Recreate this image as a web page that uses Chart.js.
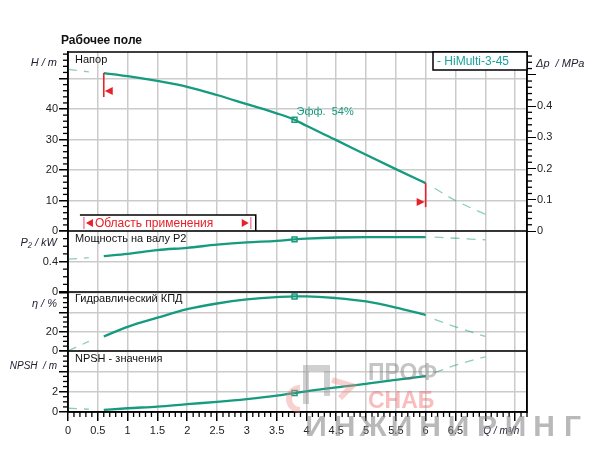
<!DOCTYPE html>
<html>
<head>
<meta charset="utf-8">
<script src="https://cdn.jsdelivr.net/npm/chart.js@4.4.0/dist/chart.umd.min.js"></script>
<style>
  html, body { margin: 0; padding: 0; background: #fff; }
</style>
</head>
<body>
<canvas id="pumpChart" width="600" height="457"></canvas>
<script>
// flow values (m³/h) for the three pieces of every curve
const qLow = [0, 0.35];
const qMain = [0.6, 1, 1.5, 2, 2.5, 3, 3.5, 3.8, 4, 4.5, 5, 5.5, 6];
const qHigh = [6.15, 6.5, 7.0];

// head H, m
const headLow = [53.0, 52.2];
const headMain = [51.8, 50.8, 49.2, 47.3, 44.6, 41.6, 38.6, 36.5, 34.5, 29.8, 25.0, 20.3, 15.7];
const headHigh = [14.0, 10.0, 5.5];

// shaft power P2, kW
const powerLow = [0.43, 0.45];
const powerMain = [0.47, 0.50, 0.55, 0.58, 0.62, 0.65, 0.67, 0.69, 0.70, 0.715, 0.72, 0.72, 0.72];
const powerHigh = [0.72, 0.705, 0.685];

// hydraulic efficiency, %
const effLow = [0, 10];
const effMain = [15, 25, 34.4, 43.2, 49.1, 53.3, 55.8, 56.4, 56.5, 54.7, 51.2, 44.9, 37.2];
const effHigh = [32.6, 25, 15];

// NPSH, m
const npshLow = [0.37, 0.27];
const npshMain = [0.2, 0.37, 0.53, 0.77, 1.0, 1.27, 1.6, 1.87, 2.03, 2.43, 2.77, 3.17, 3.53];
const npshHigh = [3.87, 4.6, 5.43];

const dutyQ = 3.8;
const appRange = [0.6, 6.0];
const hLabels = [0, 10, 20, 30, 40];
const dpLabels = [0, 0.1, 0.2, 0.3, 0.4];
const pLabels = [0, 0.4];
const effLabels = [0, 20];
const npshLabels = [0, 2];

const TEAL = '#169b7e';
const TEAL_LIGHT = 'rgba(22,155,126,0.5)';
const GRID = '#cbcbcb';

Chart.defaults.font.family = "'Liberation Sans', Arial, sans-serif";
Chart.defaults.font.size = 11;

function isMul(v, step) {
    const r = v / step;
    return Math.abs(r - Math.round(r)) < 1e-6;
}

function pts(xs, ys) {
    return xs.map((x, i) => ({ x: x, y: ys[i] }));
}

function curve(xs, ys, axis, dashed) {
    return {
        data: pts(xs, ys),
        yAxisID: axis,
        borderColor: dashed ? TEAL_LIGHT : TEAL,
        borderWidth: dashed ? 1.3 : 2.3,
        borderDash: dashed ? [9, 7] : [],
        pointRadius: 0,
        cubicInterpolationMode: 'monotone',
        fill: false
    };
}

function duty(ys, axis) {
    const i = qMain.indexOf(dutyQ);
    return {
        data: [{ x: dutyQ, y: ys[i] }],
        yAxisID: axis,
        showLine: false,
        pointStyle: 'rect',
        pointRadius: 3.5,
        pointBackgroundColor: '#fff',
        pointBorderColor: TEAL,
        pointBorderWidth: 1.5
    };
}

function leftAxis(min, max, step, major, labels, weight) {
    return {
        type: 'linear', position: 'left', stack: 'left', stackWeight: weight,
        min: min, max: max,
        afterFit: s => { s.width = 68; },
        border: { color: '#000', width: 1.5 },
        grid: {
            color: c => isMul(c.tick.value, major) ? GRID : 'transparent',
            lineWidth: 1.5,
            tickLength: 9,
            tickColor: c => isMul(c.tick.value, major) ? '#000' : 'transparent'
        },
        ticks: {
            stepSize: step, includeBounds: false, autoSkip: false, padding: 1,
            color: '#222',
            callback: v => labels.some(l => Math.abs(l - v) < 1e-6) ? String(v) : ''
        }
    };
}

const datasets = [
    curve(qLow, headLow, 'yH', true), curve(qMain, headMain, 'yH', false), curve(qHigh, headHigh, 'yH', true), duty(headMain, 'yH'),
    curve(qLow, powerLow, 'yP', true), curve(qMain, powerMain, 'yP', false), curve(qHigh, powerHigh, 'yP', true), duty(powerMain, 'yP'),
    curve(qLow, effLow, 'yE', true), curve(qMain, effMain, 'yE', false), curve(qHigh, effHigh, 'yE', true), duty(effMain, 'yE'),
    curve(qLow, npshLow, 'yN', true), curve(qMain, npshMain, 'yN', false), curve(qHigh, npshHigh, 'yN', true), duty(npshMain, 'yN')
];

function interp(xs, ys, q) {
    for (let i = 0; i < xs.length - 1; i++) {
        if (q >= xs[i] && q <= xs[i + 1]) {
            return ys[i] + (ys[i + 1] - ys[i]) * (q - xs[i]) / (xs[i + 1] - xs[i]);
        }
    }
    return ys[ys.length - 1];
}

function line(ctx, x1, y1, x2, y2) {
    ctx.beginPath(); ctx.moveTo(x1, y1); ctx.lineTo(x2, y2); ctx.stroke();
}

function tri(ctx, tipX, tipY, dir, w, h) {
    ctx.beginPath();
    ctx.moveTo(tipX, tipY);
    ctx.lineTo(tipX + dir * w, tipY - h / 2);
    ctx.lineTo(tipX + dir * w, tipY + h / 2);
    ctx.closePath();
    ctx.fill();
}

const extras = {
    id: 'extras',
    afterDraw(chart) {
        const ctx = chart.ctx;
        const a = chart.chartArea;
        const sx = chart.scales.x, sH = chart.scales.yH, sP = chart.scales.yP,
              sE = chart.scales.yE, sN = chart.scales.yN, sD = chart.scales.dp;
        ctx.save();

        // minor ticks
        ctx.strokeStyle = '#000';
        ctx.lineWidth = 1.3;
        [[sH, 10], [sP, 0.4], [sE, 20], [sN, 2]].forEach(([s, major]) => {
            s.ticks.forEach(t => {
                if (!isMul(t.value, major)) {
                    const y = s.getPixelForValue(t.value);
                    line(ctx, a.left - 5, y, a.left, y);
                }
            });
        });
        sD.ticks.forEach(t => {
            if (!isMul(t.value, 0.1)) {
                const y = sD.getPixelForValue(t.value);
                line(ctx, a.right, y, a.right + 5, y);
            }
        });
        sx.ticks.forEach(t => {
            if (!isMul(t.value, 0.5)) {
                const x = sx.getPixelForValue(t.value);
                line(ctx, x, a.bottom, x, a.bottom + 5);
            }
        });

        // panel frames
        ctx.lineWidth = 1.5;
        ctx.strokeRect(a.left, a.top, a.right - a.left, a.bottom - a.top);
        [sP, sE, sN].forEach(s => line(ctx, a.left, s.top, a.right, s.top));

        // application range box
        const bl = sx.getPixelForValue(0.2), br = sx.getPixelForValue(3.15);
        const bt = sH.bottom - 16, bb = sH.bottom;
        ctx.fillStyle = '#fff';
        ctx.fillRect(bl, bt, br - bl, bb - bt - 1);
        ctx.strokeStyle = '#000';
        ctx.lineWidth = 1.5;
        ctx.beginPath(); ctx.moveTo(bl, bt); ctx.lineTo(br, bt); ctx.lineTo(br, bb); ctx.stroke();
        const bm = (bt + bb) / 2;
        ctx.strokeStyle = '#f08aa0';
        line(ctx, bl + 4, bt + 2, bl + 4, bb - 2);
        line(ctx, br - 5, bt + 2, br - 5, bb - 2);
        ctx.fillStyle = '#e8202a';
        tri(ctx, bl + 6, bm, 1, 7, 8);
        tri(ctx, br - 7, bm, -1, 7, 8);
        ctx.font = "12px 'Liberation Sans', Arial, sans-serif";
        ctx.textAlign = 'left';
        ctx.textBaseline = 'middle';
        ctx.fillText('Область применения', bl + 15, bm + 0.5);

        // range limit markers on the head curve
        ctx.strokeStyle = '#e8202a';
        ctx.lineWidth = 1.6;
        const x0 = sx.getPixelForValue(appRange[0]);
        const y0 = sH.getPixelForValue(interp(qMain, headMain, appRange[0]));
        line(ctx, x0, y0, x0, y0 + 24);
        tri(ctx, x0 + 1, y0 + 18, 1, 8, 8);
        const x1 = sx.getPixelForValue(appRange[1]);
        const y1 = sH.getPixelForValue(interp(qMain, headMain, appRange[1]));
        line(ctx, x1, y1, x1, y1 + 24);
        tri(ctx, x1 - 1, y1 + 19, -1, 8, 8);

        // duty point text
        const dx = sx.getPixelForValue(dutyQ);
        const dy = sH.getPixelForValue(headMain[qMain.indexOf(dutyQ)]);
        ctx.fillStyle = TEAL;
        ctx.font = "11px 'Liberation Sans', Arial, sans-serif";
        ctx.fillText('Эфф.  54%', dx + 2, dy - 8);

        // title
        ctx.fillStyle = '#111';
        ctx.font = "bold 12px 'Liberation Sans', Arial, sans-serif";
        ctx.fillText('Рабочее поле', 61, 41);

        // panel names
        ctx.font = "11px 'Liberation Sans', Arial, sans-serif";
        ctx.fillStyle = '#111';
        ctx.fillText('Напор', a.left + 7, sH.top + 8);
        ctx.fillText('Мощность на валу P2', a.left + 7, sP.top + 8);
        ctx.fillText('Гидравлический КПД', a.left + 7, sE.top + 7);
        ctx.fillText('NPSH - значения', a.left + 7, sN.top + 8);

        // axis titles
        ctx.fillStyle = '#223';
        ctx.textAlign = 'right';
        ctx.font = "italic 11px 'Liberation Sans', Arial, sans-serif";
        ctx.fillText('H / m', 57, sH.top + 11);
        ctx.fillText('P₂ / kW', 57, sP.top + 12);
        ctx.fillText('η / %', 57, sE.top + 12);
        ctx.font = "italic 10px 'Liberation Sans', Arial, sans-serif";
        ctx.fillText('NPSH  / m', 57, sN.top + 15);
        ctx.textAlign = 'left';
        ctx.font = "italic 11px 'Liberation Sans', Arial, sans-serif";
        ctx.fillText('Δp  / MPa', a.right + 9, sH.top + 12);
        ctx.font = "italic 10px 'Liberation Sans', Arial, sans-serif";
        ctx.fillText('Q / m³/h', sx.getPixelForValue(7) - 2, a.bottom + 19);

        // legend box
        ctx.fillStyle = '#fff';
        ctx.fillRect(a.right - 94, a.top, 94, 18);
        ctx.strokeStyle = '#000';
        ctx.lineWidth = 1.5;
        ctx.strokeRect(a.right - 94, a.top, 94, 18);
        ctx.fillStyle = '#1aa39c';
        ctx.font = "12px 'Liberation Sans', Arial, sans-serif";
        ctx.fillText('- HiMulti-3-45', a.right - 90, a.top + 9.5);

        // shop watermark
        ctx.globalAlpha = 0.4;
        ctx.strokeStyle = '#8a8a8a';
        ctx.lineWidth = 6;
        ctx.beginPath(); ctx.moveTo(306, 404); ctx.lineTo(306, 368); ctx.lineTo(327, 368); ctx.lineTo(327, 396); ctx.stroke();
        ctx.strokeStyle = '#f08a8a';
        ctx.beginPath(); ctx.arc(300, 399, 11, Math.PI * 0.5, Math.PI * 1.5); ctx.stroke();
        ctx.beginPath(); ctx.moveTo(332, 380); ctx.lineTo(352, 386); ctx.lineTo(340, 398); ctx.stroke();
        ctx.font = "bold 23px 'Liberation Sans', Arial, sans-serif";
        ctx.fillStyle = '#6d6d6d';
        ctx.fillText('ПРОФ', 368, 374);
        ctx.fillStyle = '#f05a5a';
        ctx.fillText('СНАБ', 368, 402);
        ctx.globalAlpha = 0.55;
        ctx.fillStyle = '#808080';
        ctx.font = "bold 30px 'Liberation Sans', Arial, sans-serif";
        ctx.textAlign = 'center';
        const word = 'ИНЖИНИРИНГ';
        for (let i = 0; i < word.length; i++) {
            ctx.fillText(word[i], 316 + i * 28.5, 428);
        }
        ctx.restore();
    }
};

new Chart(document.getElementById('pumpChart'), {
    type: 'line',
    data: { datasets: datasets },
    options: {
        responsive: false,
        animation: false,
        layout: { padding: { top: 52, left: 0, right: 0, bottom: 0 } },
        plugins: { legend: { display: false }, tooltip: { enabled: false } },
        scales: {
            x: {
                type: 'linear', min: 0, max: 7.7,
                afterFit: s => { s.height = 45; },
                border: { color: '#000', width: 1.5 },
                grid: {
                    color: c => isMul(c.tick.value, 0.5) ? GRID : 'transparent',
                    lineWidth: 1.5,
                    tickLength: 9,
                    tickColor: c => isMul(c.tick.value, 0.5) ? '#000' : 'transparent'
                },
                ticks: {
                    stepSize: 0.1, includeBounds: false, autoSkip: false, maxRotation: 0, padding: 3,
                    color: '#222',
                    callback: v => (isMul(v, 0.5) && v < 6.9) ? String(Math.round(v * 10) / 10) : ''
                }
            },
            // left boxes are laid out in reverse order, so the bottom panel comes first
            yN: leftAxis(0, 6, 0.5, 2, npshLabels, 61),
            yE: leftAxis(0, 61, 5, 20, effLabels, 59),
            yP: leftAxis(0, 0.8, 0.1, 0.4, pLabels, 61),
            yH: leftAxis(0, 58.7, 2, 10, hLabels, 179),
            dp: {
                type: 'linear', position: 'right', stack: 'right', stackWeight: 179,
                min: 0, max: 0.573,
                afterFit: s => { s.width = 73; },
                border: { color: '#000', width: 1.5 },
                grid: {
                    drawOnChartArea: false,
                    tickLength: 9,
                    tickColor: c => isMul(c.tick.value, 0.1) ? '#000' : 'transparent'
                },
                ticks: {
                    stepSize: 0.02, includeBounds: false, autoSkip: false, padding: 1,
                    color: '#222',
                    callback: v => dpLabels.some(l => Math.abs(l - v) < 1e-6) ? String(v) : ''
                }
            },
            dpRest: {
                type: 'linear', position: 'right', stack: 'right', stackWeight: 181,
                min: 0, max: 1,
                afterFit: s => { s.width = 73; },
                border: { color: '#000', width: 1.5 },
                grid: { display: false },
                ticks: { display: false }
            }
        }
    },
    plugins: [extras]
});
</script>
</body>
</html>
